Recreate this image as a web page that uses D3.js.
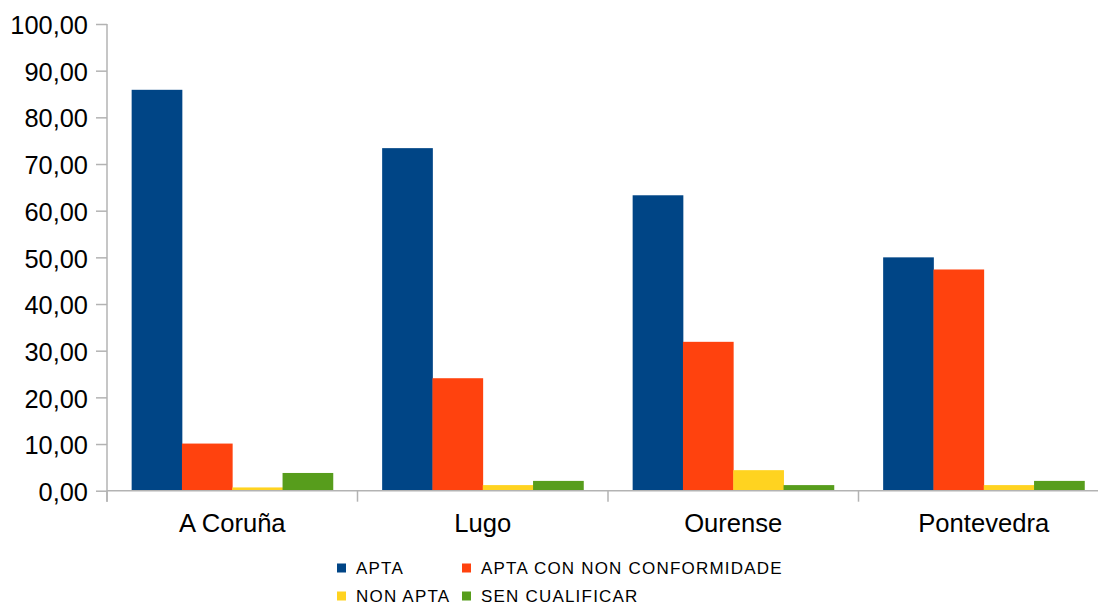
<!DOCTYPE html>
<html>
<head>
<meta charset="utf-8">
<script src="https://cdn.jsdelivr.net/npm/d3@7"></script>
<style>
  html, body { margin: 0; padding: 0; background: #ffffff; }
  svg { display: block; font-family: "Liberation Sans", Arial, sans-serif; }
</style>
</head>
<body>
<svg id="chart" width="1098" height="604"></svg>
<script>
// Provinces on the category axis
const provinces = ["A Coruña", "Lugo", "Ourense", "Pontevedra"];

// Series (percentages per province)
const seriesNames = ["APTA", "APTA CON NON CONFORMIDADE", "NON APTA", "SEN CUALIFICAR"];
const apta = [85.9, 73.4, 63.3, 50.0];
const aptaConNonConformidade = [10.1, 24.1, 31.9, 47.4];
const nonApta = [0.7, 1.2, 4.4, 1.2];
const senCualificar = [3.8, 2.1, 1.2, 2.1];
const seriesValues = [apta, aptaConNonConformidade, nonApta, senCualificar];
const seriesColors = ["#004586", "#ff420e", "#ffd320", "#579d1c"];

// Value axis ticks
const yTicks = [0, 10, 20, 30, 40, 50, 60, 70, 80, 90, 100];

const svg = d3.select("#chart");
const plotLeft = 107, plotTop = 24, plotBottom = 490.7;
const bandStep = 250.5;
const plotRight = plotLeft + bandStep * provinces.length;

const x = d3.scaleBand().domain(provinces).range([plotLeft, plotRight]).paddingInner(0).paddingOuter(0);
const inner = d3.scaleBand().domain(seriesNames).range([0, x.bandwidth()]).paddingOuter(0.49).paddingInner(0);
const y = d3.scaleLinear().domain([0, 100]).range([plotBottom, plotTop]);

const fmt = v => d3.format(".2f")(v).replace(".", ",");
const axisColor = "#b3b3b3";

// Y axis
const yAxis = svg.append("g").attr("transform", `translate(${plotLeft},0)`)
  .call(d3.axisLeft(y).tickValues(yTicks).tickFormat(fmt).tickSize(11).tickPadding(8));
yAxis.select(".domain").attr("stroke", axisColor).attr("stroke-width", 1.5)
  .attr("d", `M0,${plotTop}V${plotBottom + 11}`);
yAxis.selectAll(".tick line").attr("stroke", axisColor).attr("stroke-width", 1.5);
yAxis.selectAll(".tick text").attr("font-size", "25.4px").attr("fill", "#000").attr("dy", "0.38em");

// Bars
const rows = [];
seriesValues.forEach((vals, si) => vals.forEach((v, pi) => rows.push({ s: seriesNames[si], p: provinces[pi], v, c: seriesColors[si] })));
svg.append("g").selectAll("rect").data(rows).join("rect")
  .attr("x", d => x(d.p) + inner(d.s))
  .attr("width", inner.bandwidth() + 0.4)
  .attr("y", d => y(d.v))
  .attr("height", d => y(0) - y(d.v))
  .attr("fill", d => d.c);

// X axis
const xAxis = svg.append("g").attr("transform", `translate(0,${plotBottom})`);
xAxis.append("line").attr("x1", plotLeft).attr("x2", plotRight).attr("y1", 0).attr("y2", 0)
  .attr("stroke", axisColor).attr("stroke-width", 1.5);
xAxis.selectAll("line.sep").data(provinces.slice(1).map(p => x(p)).concat([plotLeft])).join("line")
  .attr("class", "sep")
  .attr("x1", d => d).attr("x2", d => d).attr("y1", 0).attr("y2", 11)
  .attr("stroke", axisColor).attr("stroke-width", 1.5);
xAxis.selectAll("text").data(provinces).join("text")
  .attr("x", d => x(d) + x.bandwidth() / 2)
  .attr("y", 41.5)
  .attr("text-anchor", "middle")
  .attr("font-size", "25.6px")
  .attr("fill", "#000")
  .text(d => d);

// Legend (two rows by two columns)
const legendX = [337, 462];
const legendY = [568, 596];
const legend = svg.append("g").selectAll("g").data(seriesNames).join("g")
  .attr("transform", (d, i) => `translate(${legendX[i % 2]},${legendY[Math.floor(i / 2)]})`);
legend.append("rect").attr("x", 0).attr("y", -4.5).attr("width", 9).attr("height", 9)
  .attr("fill", (d, i) => seriesColors[i]);
legend.append("text").attr("x", 19).attr("y", 6).attr("font-size", "17px")
  .attr("letter-spacing", "1.2px").attr("fill", "#000").text(d => d);
</script>
</body>
</html>
